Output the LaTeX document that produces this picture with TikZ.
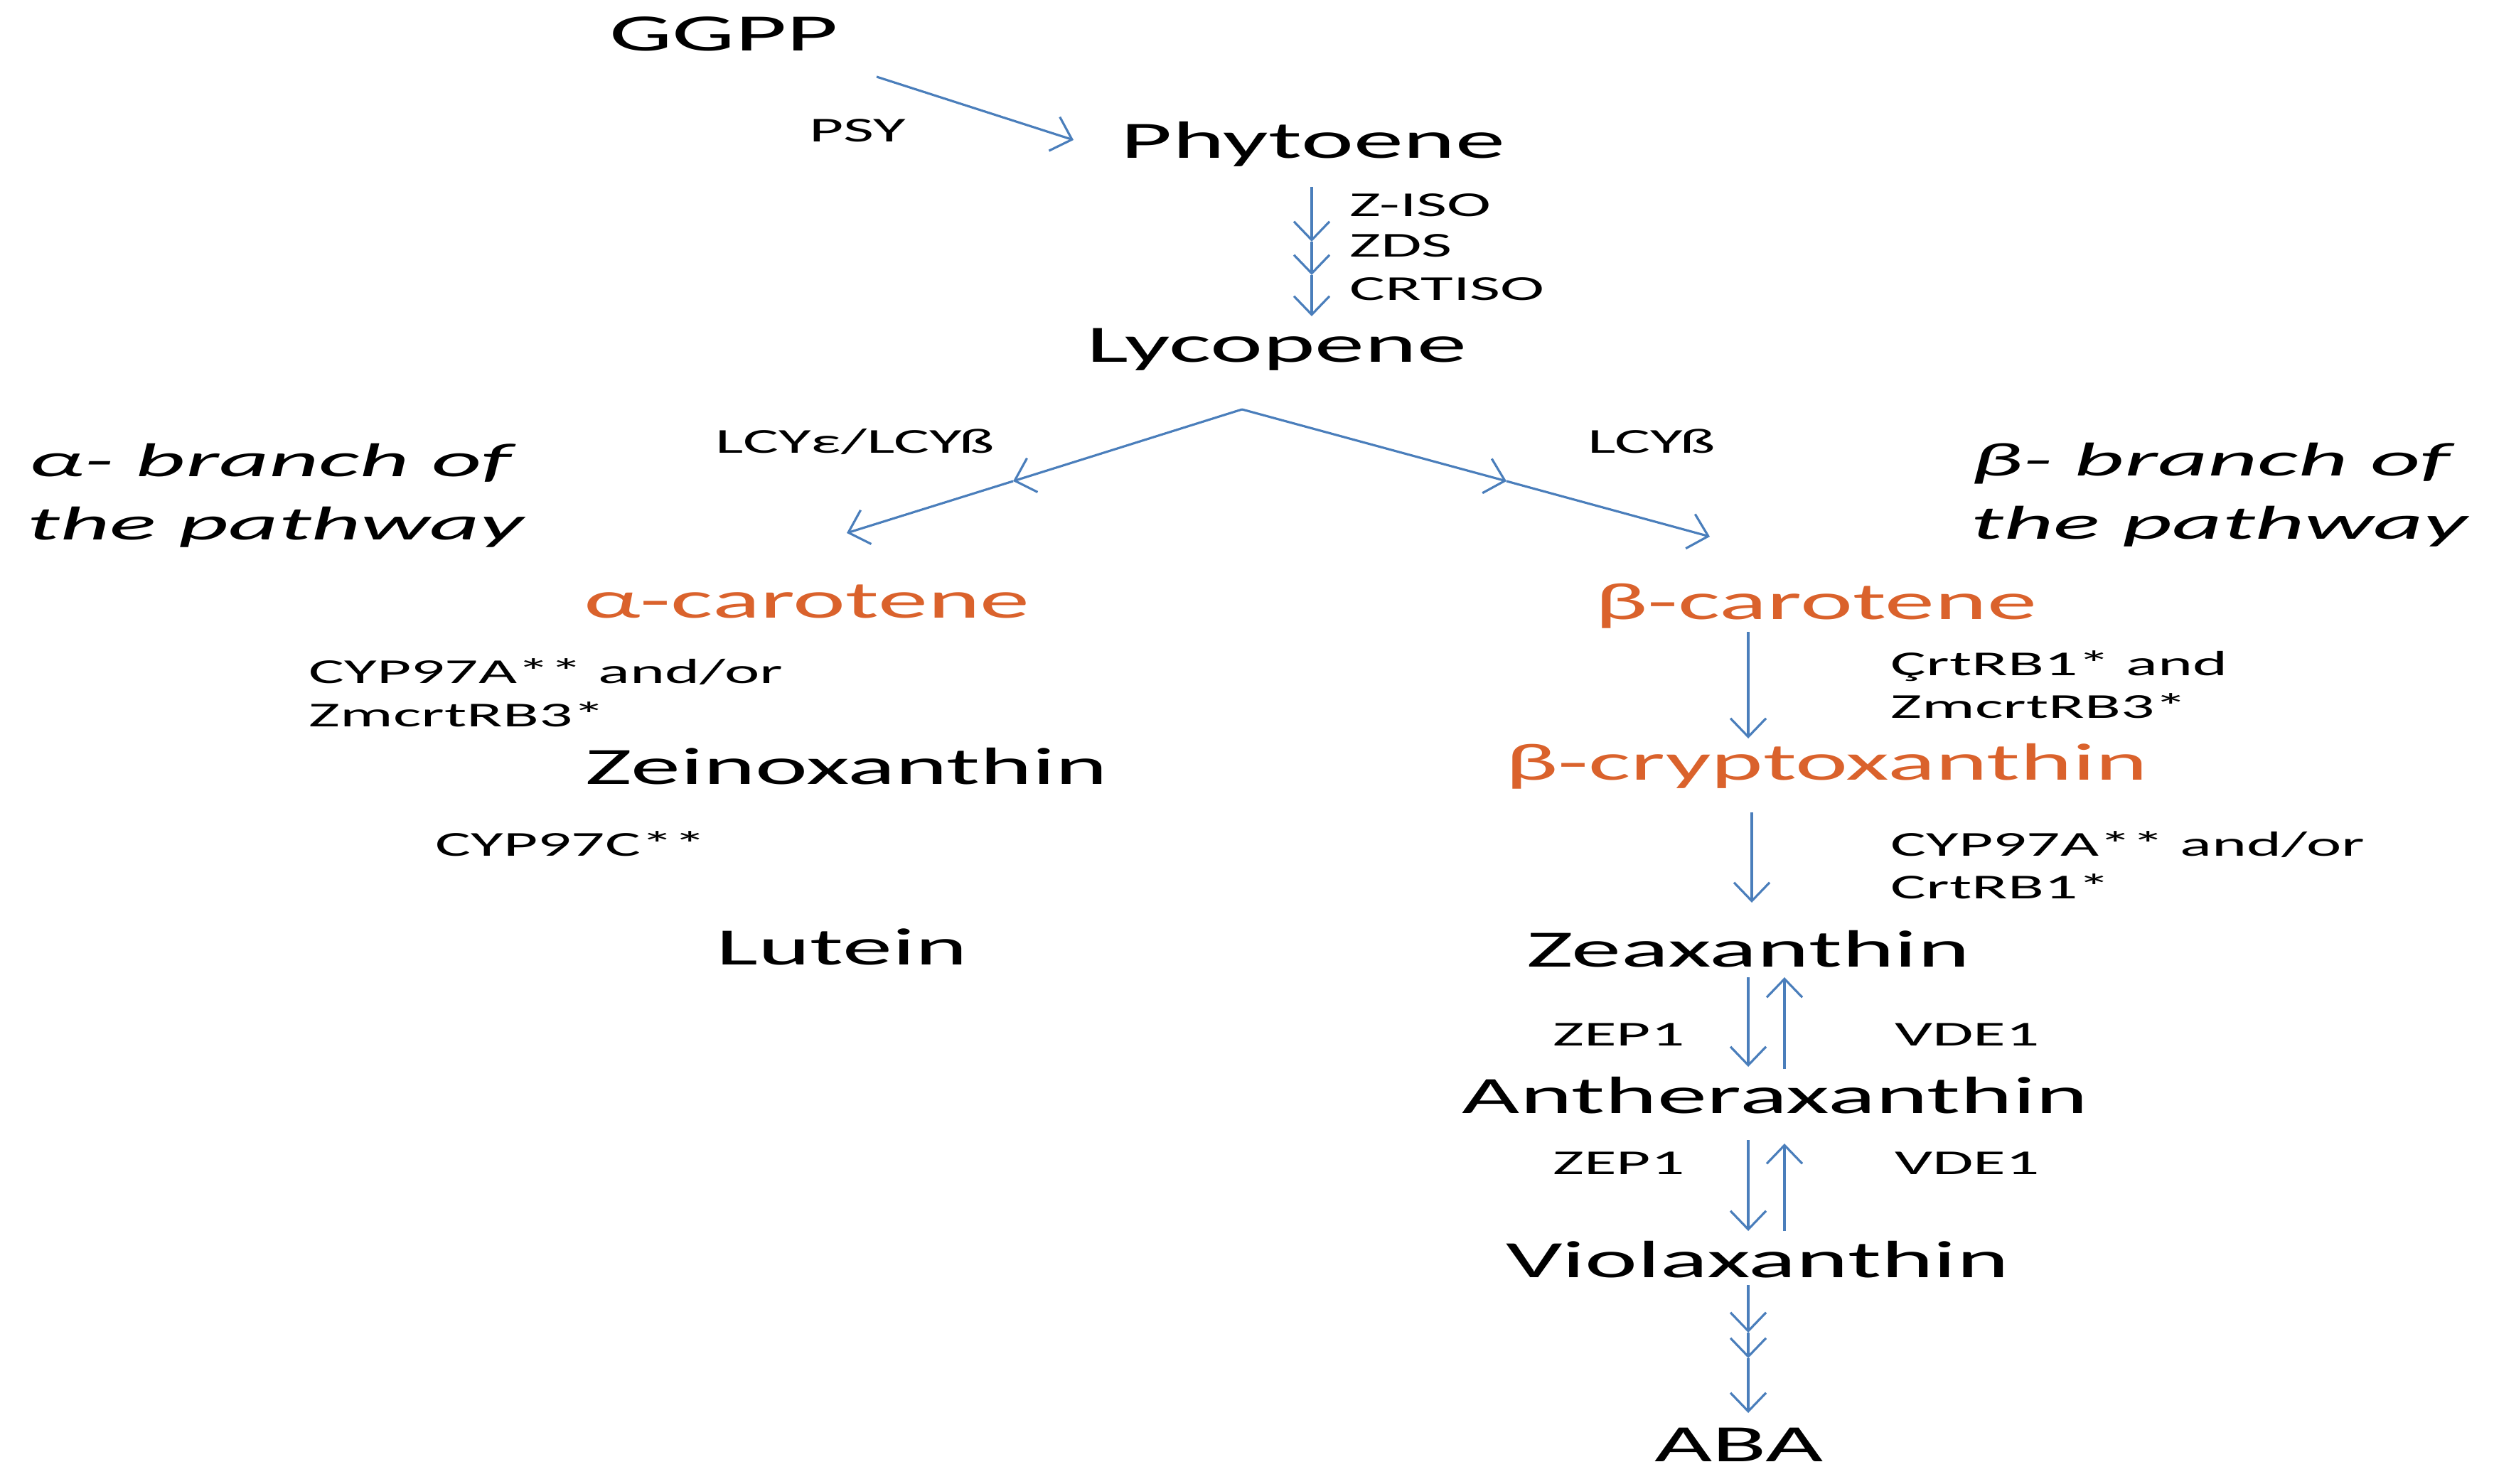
\documentclass[tikz,border=0pt]{standalone}
\usepackage{fontspec}
\setmainfont{Carlito}[FakeStretch=1.9]
\newfontfamily\branchfont{Carlito}[FakeStretch=2.05]
\usepackage{xcolor}
\usetikzlibrary{arrows.meta,positioning}

\definecolor{flowblue}{RGB}{74,126,187}
\definecolor{carorange}{RGB}{218,98,44}

\tikzset{
  flow/.style={draw=flowblue,line width=0.9pt,-{Straight Barb[length=2.6mm,width=5mm]}},
  pig/.style={anchor=base,inner sep=0pt,font=\fontsize{21}{25}\selectfont},
  carot/.style={pig,text=carorange},
  enz/.style={anchor=base west,inner sep=0pt,font=\fontsize{14}{17}\selectfont},
  enzc/.style={enz,anchor=base},
  branch/.style={anchor=base west,inner sep=0pt,font=\branchfont\itshape\fontsize{19}{25}\selectfont}
}

\begin{document}
\begin{tikzpicture}
\useasboundingbox (0,0) rectangle (35.08,-20.88);

% pigments
\node[pig] (ggpp) at (10.18,-0.72) {GGPP};
\node[pig] (phyt) at (18.47,-2.23) {Phytoene};
\node[pig] (lyco) at (17.96,-5.10) {Lycopene};
\node[carot] (acar) at (11.35,-8.70) {α-carotene};
\node[pig] (zein) at (11.91,-11.03) {Zeinoxanthin};
\node[pig] (lute) at (11.84,-13.57) {Lutein};
\node[carot] (bcar) at (25.54,-8.72) {β-carotene};
\node[carot] (bcry) at (25.69,-10.97) {β-cryptoxanthin};
\node[pig] (zeax) at (24.59,-13.60) {Zeaxanthin};
\node[pig] (anth) at (24.97,-15.66) {Antheraxanthin};
\node[pig] (viol) at (24.72,-17.97) {Violaxanthin};
\node[pig] (aba) at (24.46,-20.56) {ABA};

% enzymes
\node[enzc] (psy) at (12.06,-2.00) {PSY};
\node[enz] (ziso) at (18.98,-3.05) {Z-ISO};
\node[enz] (zds) at (18.98,-3.62) {ZDS};
\node[enz] (crtiso) at (18.98,-4.23) {CRTISO};
\node[enzc] (lcyeb) at (12.03,-6.38) {LCYε/LCYß};
\node[enzc] (lcyb) at (23.23,-6.38) {LCYß};
\node[enz] (cypa) at (4.34,-9.61) {CYP97A** and/or};
\node[enz] (rbtA) at (4.34,-10.22) {ZmcrtRB3*};
\node[enz] (cypc) at (6.12,-12.04) {CYP97C**};
\node[enz] (crtb) at (26.59,-9.50) {ÇrtRB1* and};
\node[enz] (rbtB) at (26.59,-10.10) {ZmcrtRB3*};
\node[enz] (cypb) at (26.59,-12.04) {CYP97A** and/or};
\node[enz] (crtc) at (26.59,-12.64) {CrtRB1*};
\node[enzc] (zepA) at (22.77,-14.71) {ZEP1};
\node[enzc] (vdeA) at (27.67,-14.71) {VDE1};
\node[enzc] (zepB) at (22.77,-16.52) {ZEP1};
\node[enzc] (vdeB) at (27.67,-16.52) {VDE1};

% branch titles
\node[branch] (abr1) at (0.40,-6.71) {α- branch of};
\node[branch] (abr2) at (0.38,-7.60) {the pathway};
\node[branch] (bbr1) at (27.72,-6.70) {β- branch of};
\node[branch] (bbr2) at (27.72,-7.59) {the pathway};

% arrow ends
\coordinate (psyS) at (12.33,-1.08);
\coordinate (psyE) at (15.10,-1.97);
\coordinate (ph0) at (18.45,-2.63);
\coordinate (ph1) at (18.45,-3.40);
\coordinate (ph2) at (18.45,-3.87);
\coordinate (ph3) at (18.45,-4.45);
\coordinate (apex) at (17.47,-5.76);
\coordinate (lm) at (14.25,-6.77);
\coordinate (le) at (11.91,-7.50);
\coordinate (rm) at (21.19,-6.77);
\coordinate (re) at (24.05,-7.55);
\coordinate (bc0) at (24.59,-8.89);
\coordinate (bc1) at (24.59,-10.39);
\coordinate (by0) at (24.64,-11.43);
\coordinate (by1) at (24.64,-12.70);
\coordinate (zd0) at (24.59,-13.75);
\coordinate (zd1) at (24.59,-15.01);
\coordinate (zu0) at (25.10,-15.04);
\coordinate (zu1) at (25.10,-13.75);
\coordinate (ad0) at (24.59,-16.04);
\coordinate (ad1) at (24.59,-17.32);
\coordinate (au0) at (25.10,-17.32);
\coordinate (au1) at (25.10,-16.09);
\coordinate (v0) at (24.59,-18.08);
\coordinate (v1) at (24.59,-18.75);
\coordinate (v2) at (24.59,-19.11);
\coordinate (v3) at (24.59,-19.88);

% arrows
\draw[flow] (psyS) -- (psyE);
\draw[flow] (ph0) -- (ph1);
\draw[flow] (ph1) -- (ph2);
\draw[flow] (ph2) -- (ph3);
\draw[flow] (apex) -- (lm);
\draw[flow] (lm) -- (le);
\draw[flow] (apex) -- (rm);
\draw[flow] (rm) -- (re);
\draw[flow] (bc0) -- (bc1);
\draw[flow] (by0) -- (by1);
\draw[flow] (zd0) -- (zd1);
\draw[flow] (zu0) -- (zu1);
\draw[flow] (ad0) -- (ad1);
\draw[flow] (au0) -- (au1);
\draw[flow] (v0) -- (v1);
\draw[flow] (v1) -- (v2);
\draw[flow] (v2) -- (v3);
\end{tikzpicture}
\end{document}
